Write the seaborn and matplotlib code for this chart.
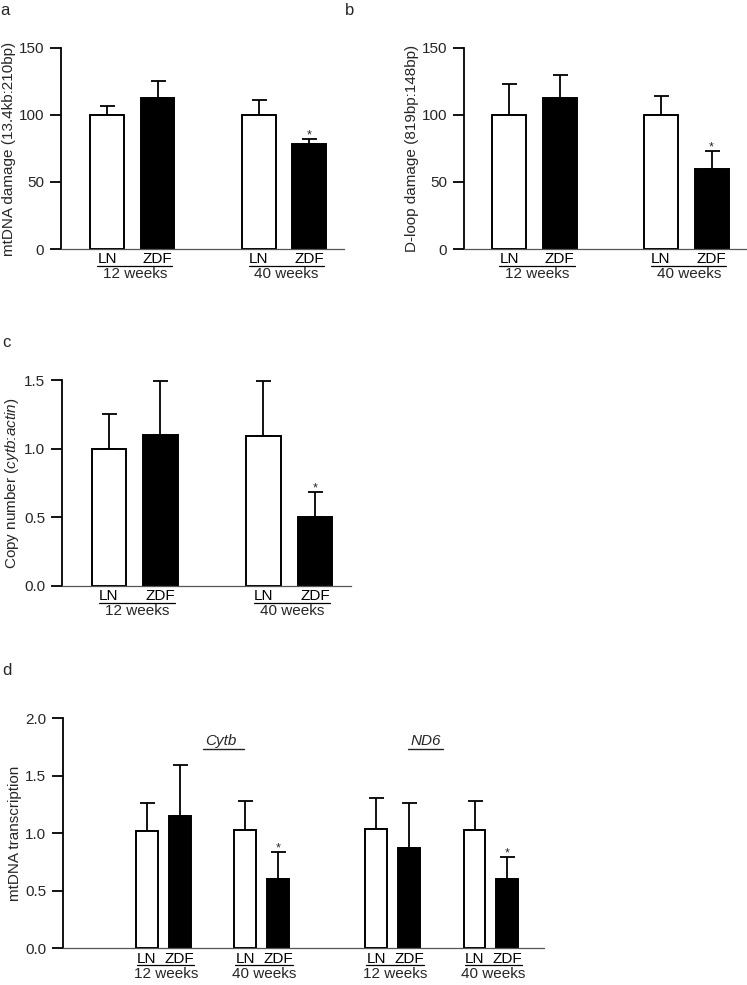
import numpy as np
import pandas as pd
import matplotlib
matplotlib.use('Agg')
import matplotlib.pyplot as plt
from matplotlib.lines import Line2D
from matplotlib.ticker import FormatStrFormatter
import seaborn as sns

sns.set_style('ticks')
plt.rcParams['font.family'] = ['Liberation Sans', 'DejaVu Sans']
plt.rcParams['mathtext.fontset'] = 'custom'
plt.rcParams['mathtext.rm'] = 'Liberation Sans'
plt.rcParams['mathtext.it'] = 'Liberation Sans:italic'

# data (mean and upper error bar)
groups = ['LN', 'ZDF', 'LN', 'ZDF']
ages = ['12 weeks', '40 weeks']
signif = [False, False, False, True]

dmg_mean = [100, 113, 100, 78]
dmg_sem = [7, 12, 11, 4]

dloop_mean = [100, 113, 100, 60]
dloop_sem = [23, 17, 14, 13]

copy_mean = [1.00, 1.10, 1.09, 0.50]
copy_sem = [0.25, 0.39, 0.40, 0.18]

cytb_mean = [1.02, 1.15, 1.03, 0.60]
cytb_sem = [0.24, 0.44, 0.25, 0.235]
nd6_mean = [1.04, 0.87, 1.03, 0.60]
nd6_sem = [0.27, 0.39, 0.25, 0.19]

genes = ['Cytb', 'ND6']

pal = {'LN': 'white', 'ZDF': 'black'}
fig = plt.figure(figsize=(7.47, 9.85), dpi=100)


def make_df(prefix, means, sems):
    slots = [f'{prefix}{g} {a}' for a in ages for g in ['LN', 'ZDF']]
    return pd.DataFrame({'slot': slots, 'group': groups, 'value': means,
                         'sem': sems, 'sig': signif})


def bar_panel(ax, df, order, xlim):
    sns.barplot(data=df, x='slot', y='value', hue='group', order=order,
                palette=pal, edgecolor='black', linewidth=1.4, width=0.67,
                dodge=False, saturation=1, errorbar=None, legend=False, ax=ax)
    bars = sorted(ax.patches, key=lambda p: p.get_x())
    xs = [p.get_x() + p.get_width() / 2 for p in bars]
    ax.errorbar(xs, df['value'], yerr=[np.zeros(len(df)), df['sem']], fmt='none',
                ecolor='black', elinewidth=1.3, capsize=5.4, capthick=1.3, zorder=0.9)
    for x, v, e, s in zip(xs, df['value'], df['sem'], df['sig']):
        if s:
            ax.annotate('*', (x, v + e), xytext=(0, 0.5), textcoords='offset points',
                        ha='center', va='baseline', fontsize=9)
    ax.set_xticks(xs, labels=list(df['group']))
    ax.set_xlim(*xlim)
    ax.set_xlabel('')
    sns.despine(ax=ax)
    ax.spines['left'].set_linewidth(1.3)
    ax.spines['left'].set_color('black')
    ax.spines['bottom'].set_linewidth(0.9)
    ax.spines['bottom'].set_color('#555555')
    ax.tick_params(axis='x', length=0, pad=2.5, labelsize=11, colors='black')
    ax.tick_params(axis='y', length=8, width=1.3, pad=4, labelsize=11, color='black')


std_order = lambda p: [f'{p}LN 12 weeks', f'{p}ZDF 12 weeks', 'gap',
                       f'{p}LN 40 weeks', f'{p}ZDF 40 weeks']

# a
ax_a = fig.add_axes([0.0817, 0.7472, 0.3789, 0.2041])
bar_panel(ax_a, make_df('', dmg_mean, dmg_sem), std_order(''), (-0.91, 4.69))
ax_a.set_ylim(0, 150)
ax_a.set_yticks([0, 50, 100, 150])
ax_a.set_ylabel('mtDNA damage (13.4kb:210bp)', fontsize=11, labelpad=2)

# b
ax_b = fig.add_axes([0.6212, 0.7472, 0.3789, 0.2041])
bar_panel(ax_b, make_df('', dloop_mean, dloop_sem), std_order(''), (-0.89, 4.70))
ax_b.set_ylim(0, 150)
ax_b.set_yticks([0, 50, 100, 150])
ax_b.set_ylabel('D-loop damage (819bp:148bp)', fontsize=11, labelpad=2)

# c
ax_c = fig.add_axes([0.0830, 0.4054, 0.3869, 0.2088])
bar_panel(ax_c, make_df('', copy_mean, copy_sem), std_order(''), (-0.91, 4.70))
ax_c.set_ylim(0, 1.5)
ax_c.set_yticks([0, 0.5, 1.0, 1.5])
ax_c.yaxis.set_major_formatter(FormatStrFormatter('%.1f'))
ax_c.set_ylabel(r'Copy number ($\mathit{cytb}$:$\mathit{actin}$)', fontsize=11, labelpad=2)

# d
df_d = pd.concat([make_df('c ', cytb_mean, cytb_sem), make_df('n ', nd6_mean, nd6_sem)],
                 ignore_index=True)
order_d = std_order('c ')[:2] + ['g1'] + std_order('c ')[3:] + ['g2', 'g3'] + \
    std_order('n ')[:2] + ['g4'] + std_order('n ')[3:]
ax_d = fig.add_axes([0.0843, 0.0373, 0.6439, 0.2335])
bar_panel(ax_d, df_d, order_d, (-2.56, 12.12))
ax_d.set_ylim(0, 2.0)
ax_d.set_yticks([0, 0.5, 1.0, 1.5, 2.0])
ax_d.yaxis.set_major_formatter(FormatStrFormatter('%.1f'))
ax_d.set_ylabel('mtDNA transcription', fontsize=11, labelpad=2)
for gx, (u0, u1), name in zip([2.27, 8.5], [(1.71, 2.96), (7.97, 9.03)], genes):
    ax_d.text(gx, 1.765, name, style='italic', ha='center', va='baseline', fontsize=11)
    ax_d.plot([u0, u1], [1.733, 1.733], color='#222222', lw=1.0, clip_on=False)

# underline the LN/ZDF pairs and put the age below
fig.canvas.draw()
r = fig.canvas.get_renderer()
W, H = fig.bbox.width, fig.bbox.height
for ax in [ax_a, ax_b, ax_c, ax_d]:
    labs = ax.get_xticklabels()
    for k in range(0, len(labs), 2):
        b0 = labs[k].get_window_extent(r)
        b1 = labs[k + 1].get_window_extent(r)
        y = min(b0.y0, b1.y0) + 0.5
        fig.add_artist(Line2D([b0.x0 / W, b1.x1 / W], [y / H, y / H],
                              transform=fig.transFigure, color='black', lw=0.9))
        fig.text((b0.x0 + b1.x1) / 2 / W, (y - 1.5) / H, ages[(k // 2) % 2],
                 ha='center', va='top', fontsize=11)

# panel letters
for lx, ly, s in [(0, 15, 'a'), (345, 15, 'b'), (2, 347, 'c'), (2, 675, 'd')]:
    fig.text(lx / W, 1 - ly / H, s, ha='left', va='baseline', fontsize=12)

fig.savefig('out.png', dpi=100)
